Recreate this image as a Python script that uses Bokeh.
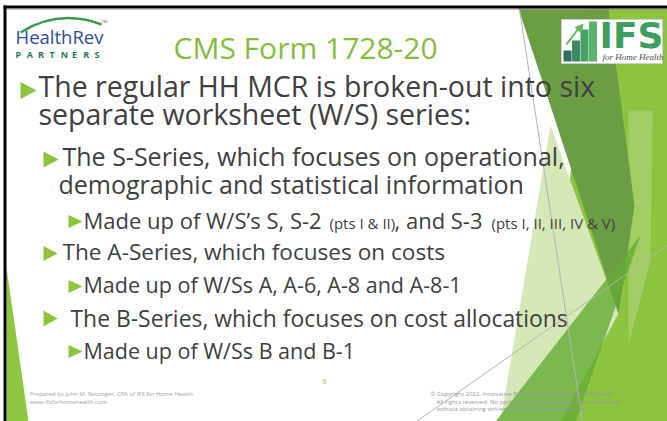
from bokeh.plotting import figure
from bokeh.models import Range1d
from bokeh.embed import file_html
from bokeh.resources import INLINE
from bokeh.core.properties import value

# ---------------- slide content ----------------
title_text = "CMS Form 1728-20"

line_texts = [
    "The regular HH MCR is broken-out into six",
    "separate worksheet (W/S) series:",
    "The S-Series, which focuses on operational,",
    "demographic and statistical information",
    "The A-Series, which focuses on costs",
    "Made up of W/Ss A, A-6, A-8 and A-8-1",
    "The B-Series, which focuses on cost allocations",
    "Made up of W/Ss B and B-1",
]
line_x = [38, 38, 62, 58, 62, 83, 70, 83]
line_y = [96, 124, 165, 193, 259, 292, 326, 358]
line_size = [28.5, 28.5, 25, 25, 22.6, 21.5, 22.9, 21.5]

# mixed-size line (S-series detail)
seg_texts = ["Made up of W/S\u2019s S, S-2", "(pts I & II)", ", and S-3", "(pts I, II, III, IV & V)"]
seg_x = [83, 329, 394, 491]
seg_size = [22, 15, 22, 15]
seg_y = 228

# bullets: left x, centre y, width, height
bullet_x = [20, 43, 68, 43, 68, 43, 68]
bullet_y = [90, 159, 221, 253, 286, 318, 351]
bullet_w = [16, 15, 14, 14, 14, 14, 14]
bullet_h = [17, 16, 13, 15, 13, 16, 13]

footer_left = ["Prepared by John M. Reisinger, CPA of IFS for Home Health",
               "www.ifsforhomehealth.com"]
footer_right = ["\u00a9 Copyright 2022.  Innovative Financial Solutions for Home Health",
                "All rights reserved.  No portion of this material may be reproduced",
                "without obtaining written permission from the author."]
page_number = "6"

# decorative theme shapes (slide pixel coordinates)
shape_xs = [[590, 667, 667, 540], [550, 618, 560, 500], [628, 652, 650, 628],
            [518, 608, 634, 618], [495, 640, 575], [6, 28, 6]]
shape_ys = [[8, 8, 421, 421], [125, 313, 421, 421], [110, 110, 260, 345],
            [8, 8, 205, 313], [421, 235, 421], [267, 421, 421]]
shape_colors = ["#8dc43f", "#d6e8b8", "#a6ce69", "#6b9d45", "#64ab34", "#8dc63f"]
shape_alpha = [1, 1, 0.9, 1, 0.8, 1]

thin_x0, thin_y0, thin_x1, thin_y1 = [519, 416], [9, 421], [582, 667], [421, 245]

partners_letters = list("PARTNERS")
ifs_bar_tops = [50, 40, 29, 21]
ifs_bar_colors = ["#2e6e5a", "#3c8862", "#47a066", "#58b46c"]

# ---------------- figure ----------------
W, H = 667, 421
p = figure(width=W, height=H, x_range=Range1d(0, W), y_range=Range1d(H, 0),
           output_backend="svg", toolbar_location=None, min_border=0)
p.axis.visible = False
p.grid.visible = False
p.outline_line_color = None
p.background_fill_color = "white"
p.border_fill_color = "white"

FONT = value("Open Sans")
TEXT = "#404040"
GREEN = "#8cc43c"
K = 0.37  # baseline correction (fraction of font size)


def put(xs, ys, texts, size, color, font=FONT, style="normal"):
    p.text(x=xs, y=[y - K * size for y in ys], text=texts, text_font=font,
           text_font_size=f"{size}px", text_font_style=style, text_color=color,
           text_baseline="alphabetic", text_align="left")


# background shapes
p.patches(xs=shape_xs, ys=shape_ys, fill_color=shape_colors, fill_alpha=shape_alpha, line_color=None)
p.segment(x0=thin_x0, y0=thin_y0, x1=thin_x1, y1=thin_y1, line_color="#b4b4b4", line_width=1)

# frame (black left & top edge, thin grey inner line)
p.quad(left=[3, 3], right=[667, 6], top=[5, 5], bottom=[8, 421], fill_color="black", line_color=None)
p.segment(x0=[6], y0=[9], x1=[667], y1=[9], line_color="#9a9a9a", line_width=1, line_alpha=0.6)

# title
put([173], [58], [title_text], 30, "#84bd3a")

# bullets
bxs = [[x, x + w, x] for x, w in zip(bullet_x, bullet_w)]
bys = [[y - h / 2, y, y + h / 2] for y, h in zip(bullet_y, bullet_h)]
p.patches(xs=bxs, ys=bys, fill_color=GREEN, line_color=None)

# body lines
for t, x, y, s in zip(line_texts, line_x, line_y, line_size):
    put([x], [y], [t], s, TEXT)
for t, x, s in zip(seg_texts, seg_x, seg_size):
    put([x], [seg_y], [t], s, TEXT)

# footers
put([29, 29], [396, 404], footer_left, 6, "#a3a3a3")
put([430, 436, 436], [396, 404, 411], footer_right, 6, "#9a94a0")
put([322], [384], [page_number], 7, GREEN)

# HealthRev Partners logo
p.quadratic(x0=[20], y0=[32], x1=[101], y1=[24], cx=[58], cy=[8],
            line_color="#3a9a4a", line_width=2.5)
put([15], [43], ["HealthRev"], 18.5, "#2c4d9e")
put([101], [22], ["TM"], 4, "#555555")
px = [15 + i * 11.3 for i in range(len(partners_letters))]
put(px, [57] * len(px), partners_letters, 9, "#1f7a52", style="bold")

# IFS logo
p.quad(left=[561], right=[662], top=[19], bottom=[63], fill_color="white", line_color="#cfcfcf")
bl = [563 + i * 8.5 for i in range(4)]
p.quad(left=bl, right=[b + 8 for b in bl], top=ifs_bar_tops, bottom=[61] * 4,
       fill_color=ifs_bar_colors, line_color=None)
p.segment(x0=[566], y0=[44], x1=[578], y1=[28], line_color="#5fb85c", line_width=2)
p.patches(xs=[[574, 583, 581]], ys=[[27, 23, 33]], fill_color="#5fb85c", line_color=None)
put([599], [48], ["IFS"], 36, "#3e9e5e", font=value("DejaVu Sans"), style="bold")
put([602], [60], ["for Home Health"], 9, "#4a4a4a", font=value("Liberation Serif"), style="italic")

open("out.html", "w").write(file_html(p, INLINE))
